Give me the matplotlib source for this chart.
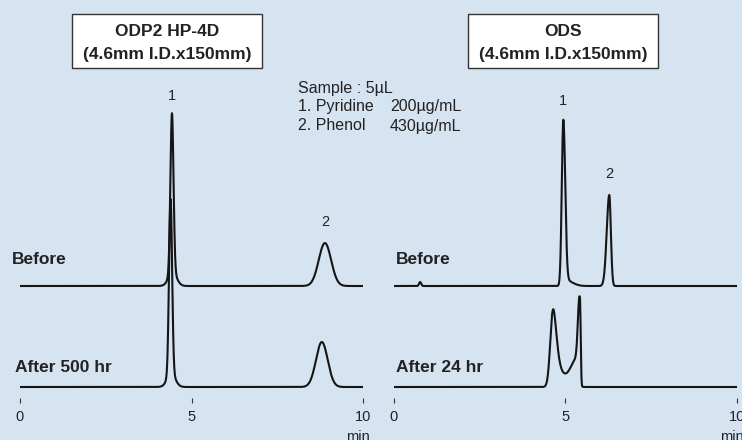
import matplotlib
matplotlib.use('Agg')
import matplotlib.pyplot as plt
from matplotlib.patches import Rectangle
import numpy as np

plt.rcParams['font.family'] = ['Liberation Sans', 'DejaVu Sans']

# peak tables:
# (retention time min, height, left width min, right width min)
odp_before = [(4.43, 160, 0.045, 0.045), (4.45, 13, 0.12, 0.12), (8.89, 43, 0.18, 0.18)]
odp_after = [(4.39, 175, 0.045, 0.045), (4.41, 13, 0.12, 0.12), (8.80, 45, 0.17, 0.17)]
ods_before = [(0.77, 4, 0.03, 0.03), (4.945, 163, 0.045, 0.055), (5.00, 6, 0.05, 0.2),
              (6.285, 91, 0.074, 0.046)]
ods_after = [(4.63, 56, 0.075, 0.1), (4.68, 24, 0.075, 0.18), (5.00, 3, 0.2, 0.2),
             (5.36, 28, 0.2, 0.04), (5.43, 83, 0.05, 0.021)]

# peak number labels: (label, retention time, peak height)
odp_labels = [('1', 4.43, 173), ('2', 8.89, 43)]
ods_labels = [('1', 4.945, 168), ('2', 6.285, 91)]

ticks = [0, 5, 10]
offset = 101  # vertical shift of the "Before" trace
label_gap = {'1': 17, '2': 21}
bg = '#d6e3f1'
ink = '#222222'

t = np.linspace(0, 10, 4001)

def trace(peaks):
    y = np.zeros_like(t)
    for rt, h, sl, sr in peaks:
        s = np.where(t < rt, sl, sr)
        y += h * np.exp(-(t - rt) ** 2 / (2 * s ** 2))
    return y

fig = plt.figure(figsize=(7.42, 4.40), dpi=100, facecolor=bg)

# overlay axes in pixel units for boxes and free text
ov = fig.add_axes([0, 0, 1, 1])
ov.set_xlim(0, 742)
ov.set_ylim(440, 0)
ov.axis('off')

def panel(left, before, after, labels):
    ax = fig.add_axes([left / 742, 42 / 440, 343 / 742, 398 / 440])
    ax.patch.set_alpha(0)
    ax.set_xlim(0, 10)
    ax.set_ylim(-11, 387)
    for sp in ax.spines.values():
        sp.set_visible(False)
    ax.set_yticks([])
    ax.set_xticks(ticks)
    ax.tick_params(axis='x', direction='out', length=3.8, width=0.8,
                   color='#333333', labelsize=10.5, pad=5, labelcolor=ink)
    ax.plot(t, trace(before) + offset, color='#151515', lw=1.5)
    ax.plot(t, trace(after), color='#151515', lw=1.5)
    for lab, x, h in labels:
        ax.text(x, h + offset + label_gap[lab], lab, ha='center', va='center',
                fontsize=10.5, color=ink)
    ax.text(9.85, -43, 'min', ha='center', va='top', fontsize=10.5, color=ink,
            clip_on=False)
    return ax

panel(20, odp_before, odp_after, odp_labels)
panel(393.7, ods_before, ods_after, ods_labels)

for x0, name in [(72, 'ODP2 HP-4D'), (468, 'ODS')]:
    ov.add_patch(Rectangle((x0, 14), 190, 54, facecolor='white', edgecolor='#333333', lw=1))
    ov.text(x0 + 95, 31, name, ha='center', va='center', fontsize=12.5, fontweight='bold',
            color=ink)
    ov.text(x0 + 95, 54, '(4.6mm I.D.x150mm)', ha='center', va='center', fontsize=12.5,
            fontweight='bold', color=ink)

for x0, y0, s in [(12, 260, 'Before'), (15, 367, 'After 500 hr'),
                  (396, 260, 'Before'), (396, 367, 'After 24 hr')]:
    ov.text(x0, y0, s, ha='left', va='center', fontsize=12.5, fontweight='bold',
            color=ink)

ov.text(298, 88, 'Sample : 5µL', ha='left', va='center', fontsize=11.5, color=ink)
ov.text(298, 107, '1. Pyridine', ha='left', va='center', fontsize=11.5, color=ink)
ov.text(298, 126, '2. Phenol', ha='left', va='center', fontsize=11.5, color=ink)
ov.text(390, 107, '200µg/mL', ha='left', va='center', fontsize=11.5, color=ink)
ov.text(390, 126, '430µg/mL', ha='left', va='center', fontsize=11.5, color=ink)

fig.savefig('out.png', dpi=100, facecolor=bg)
